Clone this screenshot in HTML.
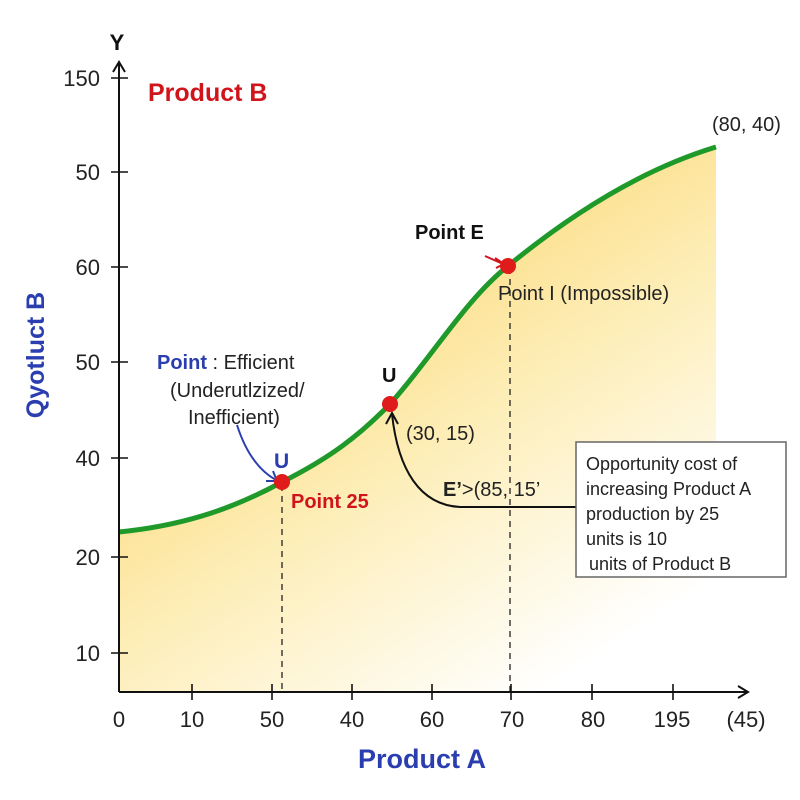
<!DOCTYPE html>
<html><head><meta charset="utf-8"><style>
html,body{margin:0;padding:0;background:#fff;}
svg{display:block;font-family:"Liberation Sans","DejaVu Sans",sans-serif;}
</style></head><body>
<svg width="800" height="800" viewBox="0 0 800 800" xmlns="http://www.w3.org/2000/svg">
<defs>
<linearGradient id="g" x1="0.35" y1="0.2" x2="0.85" y2="0.9">
<stop offset="0" stop-color="#fcd97a"/>
<stop offset="0.45" stop-color="#fdeeb8"/>
<stop offset="1" stop-color="#ffffff"/>
</linearGradient>
</defs>
<path d="M119,532 C190,525 240,505 282,482 C330,458 360,435 390,404 C430,360 465,300 508,266 C570,215 640,170 716,147 L716,692 L119,692 Z" fill="url(#g)"/>
<path d="M119,532 C190,525 240,505 282,482 C330,458 360,435 390,404 C430,360 465,300 508,266 C570,215 640,170 716,147" fill="none" stroke="#1f9a2a" stroke-width="5"/>
<g stroke="#222" stroke-width="1.3" stroke-dasharray="6,5"><line x1="282" y1="485" x2="282" y2="692"/><line x1="510" y1="268" x2="510" y2="692"/></g>
<g stroke="#111" stroke-width="2" fill="none">
<line x1="119" y1="62" x2="119" y2="692"/><line x1="119" y1="692" x2="748" y2="692"/>
<polyline points="113,72 119,62 125,72"/><polyline points="738,686 748,692 738,698"/>
<g stroke-width="1.6">
<line x1="111" y1="78" x2="128" y2="78"/><line x1="111" y1="172" x2="128" y2="172"/><line x1="111" y1="267" x2="128" y2="267"/><line x1="111" y1="362" x2="128" y2="362"/><line x1="111" y1="458" x2="128" y2="458"/><line x1="111" y1="557" x2="128" y2="557"/><line x1="111" y1="653" x2="128" y2="653"/>
<line x1="192" y1="684" x2="192" y2="700"/><line x1="272" y1="684" x2="272" y2="700"/><line x1="352" y1="684" x2="352" y2="700"/><line x1="432" y1="684" x2="432" y2="700"/><line x1="511" y1="684" x2="511" y2="700"/><line x1="592" y1="684" x2="592" y2="700"/><line x1="673" y1="684" x2="673" y2="700"/>
</g></g>
<g font-size="22" fill="#222" text-anchor="end">
<text x="100" y="86">150</text><text x="100" y="180">50</text><text x="100" y="275">60</text><text x="100" y="370">50</text><text x="100" y="466">40</text><text x="100" y="565">20</text><text x="100" y="661">10</text></g>
<g font-size="22" fill="#222" text-anchor="middle">
<text x="119" y="727">0</text><text x="192" y="727">10</text><text x="272" y="727">50</text><text x="352" y="727">40</text><text x="432" y="727">60</text><text x="512" y="727">70</text><text x="593" y="727">80</text><text x="672" y="727">195</text><text x="746" y="727">(45)</text></g>
<text x="117" y="50" font-size="22" font-weight="bold" text-anchor="middle" fill="#111">Y</text>
<text x="148" y="101" font-size="25" font-weight="bold" fill="#d0141c">Product B</text>
<text x="422" y="768" font-size="27" font-weight="bold" fill="#2a3eb0" text-anchor="middle">Product A</text>
<text transform="translate(44,355) rotate(-90)" font-size="25" font-weight="bold" fill="#2a3eb0" text-anchor="middle">Qyotluct B</text>
<text x="712" y="131" font-size="20" fill="#222">(80, 40)</text>
<text x="415" y="239" font-size="20" font-weight="bold" fill="#111">Point E</text>
<text x="498" y="300" font-size="20" fill="#222">Point I (Impossible)</text>
<text x="157" y="369" font-size="20" fill="#222"><tspan fill="#2a3eb0" font-weight="bold">Point</tspan> : Efficient</text>
<text x="170" y="397" font-size="20" fill="#222">(Underutlzized/</text>
<text x="188" y="424" font-size="20" fill="#222">Inefficient)</text>
<text x="382" y="382" font-size="20" font-weight="bold" fill="#111">U</text>
<text x="274" y="468" font-size="21" font-weight="bold" fill="#2a3eb0">U</text>
<text x="291" y="508" font-size="20" font-weight="bold" fill="#d0141c">Point 25</text>
<text x="406" y="440" font-size="20" fill="#222">(30, 15)</text>
<text x="443" y="496" font-size="20" fill="#222"><tspan font-weight="bold">E’</tspan>&gt;(85, 15’</text>
<path d="M237,425 C245,450 258,470 276,480" fill="none" stroke="#2a3eb0" stroke-width="2"/>
<polyline points="266,481 277,481 273,471" fill="none" stroke="#2a3eb0" stroke-width="2"/>
<path d="M485,256 L503,264" stroke="#d0141c" stroke-width="2"/>
<polyline points="495,258 504,264 496,268" fill="none" stroke="#d0141c" stroke-width="2"/>
<path d="M576,507 L460,507 C420,505 398,470 392,414" fill="none" stroke="#111" stroke-width="2"/>
<polyline points="386,424 392,413 398,424" fill="none" stroke="#111" stroke-width="2"/>
<circle cx="282" cy="482" r="8" fill="#e01b1b"/><circle cx="390" cy="404" r="8" fill="#e01b1b"/><circle cx="508" cy="266" r="8" fill="#e01b1b"/>
<rect x="576" y="442" width="210" height="135" fill="#fff" stroke="#666" stroke-width="1.5"/>
<g font-size="18" fill="#222"><text x="586" y="470">Opportunity cost of</text><text x="586" y="495">increasing Product A</text><text x="586" y="520">production by 25</text><text x="586" y="545">units is 10</text><text x="589" y="570">units of Product B</text></g>
</svg>
</body></html>
